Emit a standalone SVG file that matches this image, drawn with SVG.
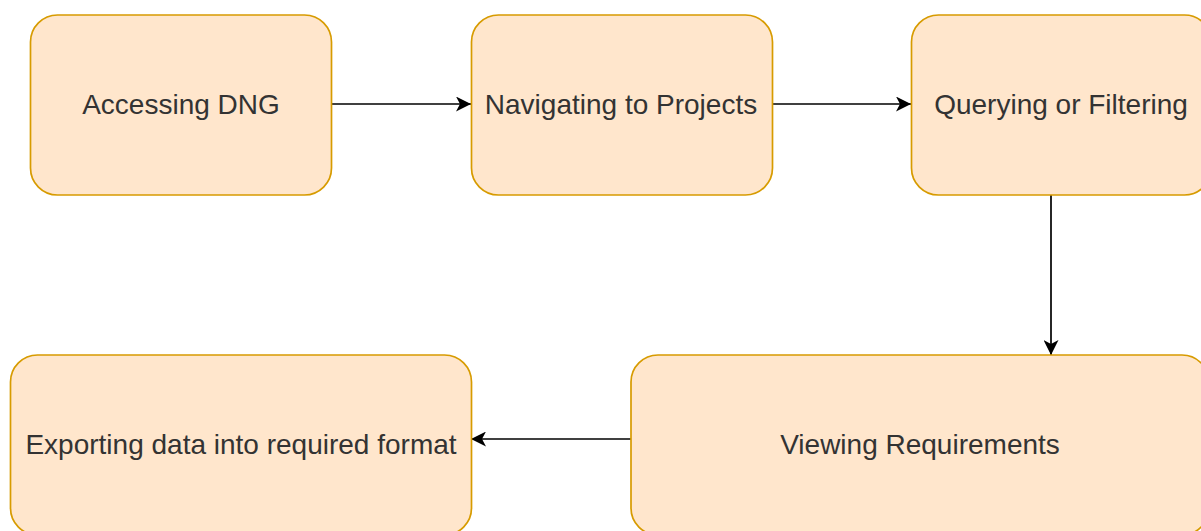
<svg xmlns="http://www.w3.org/2000/svg" width="1201" height="531" viewBox="0 0 1201 531">
<style>
.box{fill:#ffe6cc;stroke:#d79b00;stroke-width:1.7}
.lbl{font-family:"Liberation Sans",Arial,sans-serif;font-size:28px;fill:#333;text-anchor:middle}
.edge{fill:none;stroke:#000;stroke-width:1.7}
</style>
<defs>
<marker id="ah" viewBox="0 0 15 15" refX="15" refY="7.5" markerWidth="15" markerHeight="15" markerUnits="userSpaceOnUse" orient="auto">
<path d="M0,0 L15,7.5 L0,15 L4,7.5 Z" fill="#000"/>
</marker>
</defs>
<g id="connectors">
<line class="edge" x1="331" y1="104" x2="471" y2="104" marker-end="url(#ah)"/>
<line class="edge" x1="772" y1="104" x2="911" y2="104" marker-end="url(#ah)"/>
<line class="edge" x1="1051" y1="195" x2="1051" y2="355" marker-end="url(#ah)"/>
<line class="edge" x1="631" y1="439" x2="471" y2="439" marker-end="url(#ah)"/>
</g>
<g id="n1"><rect class="box" x="30.5" y="15" width="301" height="180" rx="27"/><text class="lbl" x="181" y="114">Accessing DNG</text></g>
<g id="n2"><rect class="box" x="471.5" y="15" width="301" height="180" rx="27"/><text class="lbl" x="621" y="114">Navigating to Projects</text></g>
<g id="n3"><rect class="box" x="911.5" y="15" width="300" height="180" rx="27"/><text class="lbl" x="1061" y="114">Querying or Filtering</text></g>
<g id="n4"><rect class="box" x="631" y="355" width="578" height="180" rx="27"/><text class="lbl" x="920" y="454">Viewing Requirements</text></g>
<g id="n5"><rect class="box" x="10.5" y="355" width="461" height="180" rx="27"/><text class="lbl" x="241" y="454">Exporting data into required format</text></g>
</svg>
